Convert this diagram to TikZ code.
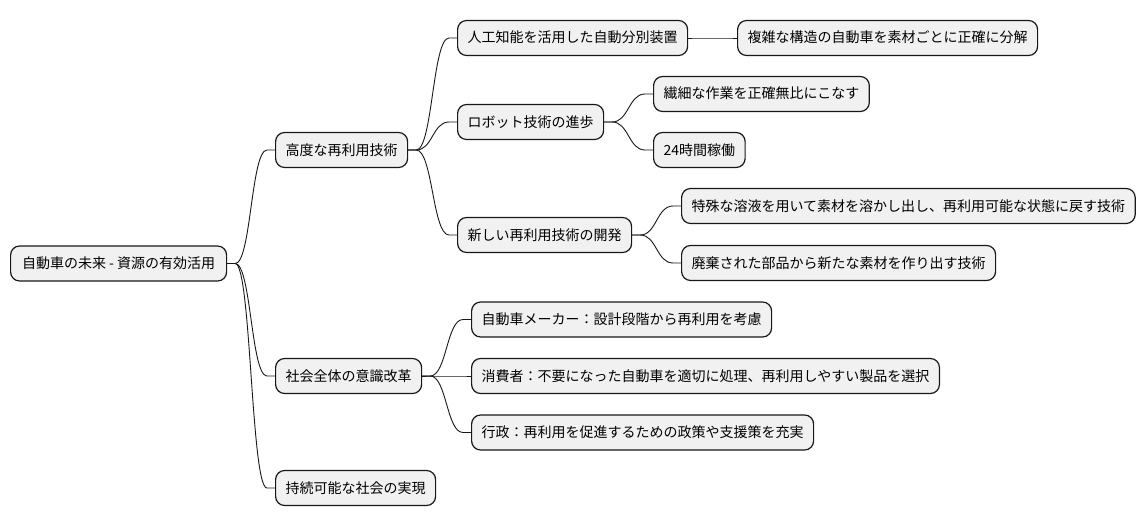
\documentclass[tikz,border=0pt]{standalone}
\usepackage{fontspec}
\setmainfont{Noto Sans CJK JP}
\usetikzlibrary{calc}

\definecolor{boxfill}{HTML}{F1F1F1}
\definecolor{boxline}{HTML}{181818}

% curved branch from a parent box to a child box
\newcommand\branch[2]{%
  \path ($(#1.east)!.5!(#2.west)$) coordinate (mid);
  \draw[link] (#1.east) -- ++(8,0) .. controls (mid |- #1.east) and (mid |- #2.west) .. ($(#2.west)+(-8,0)$) -- (#2.west);}

\begin{document}
\begin{tikzpicture}[
        x=1pt, y=-1pt,
        topic/.style={draw=boxline, fill=boxfill, line width=1.2pt, rounded corners=9pt, anchor=west,
                      minimum height=35pt, inner xsep=10pt, text height=12pt, text depth=2pt,
                      font=\fontsize{14}{17}\selectfont},
        link/.style={draw=boxline, line width=0.9pt}
        ]
        \useasboundingbox (0,0) rectangle (1146,527);

        \node[topic, minimum width=216pt] (root) at (10,263.5) {自動車の未来 - 資源の有効活用};

        \node[topic] (tech) at (275,150) {高度な再利用技術};
        \node[topic] (mind) at (275,376) {社会全体の意識改革};
        \node[topic] (goal) at (275,488) {持続可能な社会の実現};

        \node[topic] (ai) at (457,38) {人工知能を活用した自動分別装置};
        \node[topic] (robot) at (457,122) {ロボット技術の進歩};
        \node[topic] (newtech) at (457,235) {新しい再利用技術の開発};

        \node[topic] (split) at (737,38) {複雑な構造の自動車を素材ごとに正確に分解};
        \node[topic] (fine) at (653,94) {繊細な作業を正確無比にこなす};
        \node[topic] (allday) at (653,150) {24時間稼働};
        \node[topic] (solve) at (681,206) {特殊な溶液を用いて素材を溶かし出し、再利用可能な状態に戻す技術};
        \node[topic] (waste) at (681,263) {廃棄された部品から新たな素材を作り出す技術};

        \node[topic] (maker) at (471,319.5) {自動車メーカー：設計段階から再利用を考慮};
        \node[topic] (user) at (471,376) {消費者：不要になった自動車を適切に処理、再利用しやすい製品を選択};
        \node[topic] (gov) at (471,432.5) {行政：再利用を促進するための政策や支援策を充実};

        \branch{root}{tech}
        \branch{root}{mind}
        \branch{root}{goal}
        \branch{tech}{ai}
        \branch{tech}{robot}
        \branch{tech}{newtech}
        \branch{ai}{split}
        \branch{robot}{fine}
        \branch{robot}{allday}
        \branch{newtech}{solve}
        \branch{newtech}{waste}
        \branch{mind}{maker}
        \branch{mind}{user}
        \branch{mind}{gov}
    \end{tikzpicture}
\end{document}
